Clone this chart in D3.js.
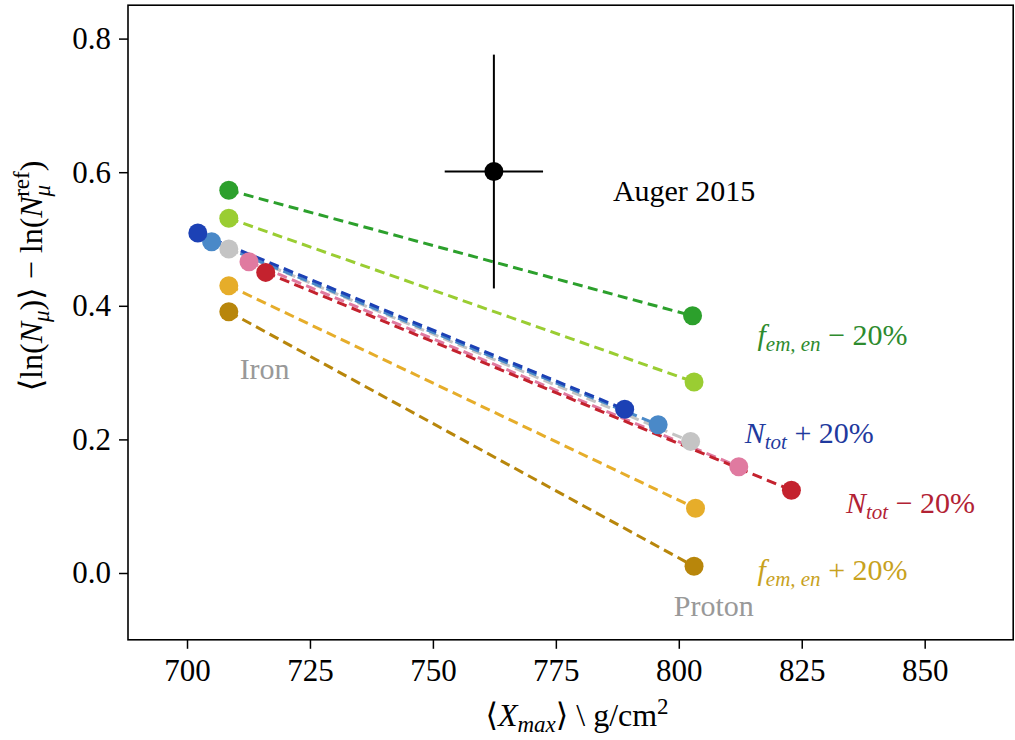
<!DOCTYPE html>
<html>
<head>
<meta charset="utf-8">
<script src="https://cdn.jsdelivr.net/npm/d3@7"></script>
<style>
  html, body { margin: 0; padding: 0; background: #fff; }
  svg { display: block; font-family: "Liberation Serif", "DejaVu Serif", serif; }
</style>
</head>
<body>
<svg id="chart" width="1015" height="740"></svg>
<script>
// ---- data ----
const seriesNames = ["fem-20", "fem-10", "Ntot+20", "Ntot+10", "reference", "Ntot-10", "Ntot-20", "fem+10", "fem+20"];
const seriesColors = ["#2ca02c", "#9acd32", "#1c41b5", "#4a89c8", "#c4c4c4", "#e07aa0", "#c4222e", "#e6ad2a", "#b8860b"];
const ironXmax   = [708.5, 708.5, 702.2, 705.0, 708.5, 712.6, 716.0, 708.5, 708.5];
const ironLnNmu  = [0.573, 0.531, 0.509, 0.496, 0.485, 0.466, 0.450, 0.430, 0.391];
const protonXmax = [802.8, 803.1, 789.0, 795.8, 802.4, 812.2, 822.9, 803.4, 803.1];
const protonLnNmu= [0.385, 0.286, 0.245, 0.222, 0.197, 0.159, 0.124, 0.097, 0.010];
const lineOrder  = [4, 5, 3, 0, 1, 7, 8, 6, 2];

const augerX = 762.4, augerY = 0.601, augerXerr = 10, augerYerr = 0.175;

const xTicks = [700, 725, 750, 775, 800, 825, 850];
const yTicks = [0.0, 0.2, 0.4, 0.6, 0.8];

// ---- scales ----
const svg = d3.select("#chart");
const x = d3.scaleLinear().domain([688, 868]).range([128, 1013.2]);
const y = d3.scaleLinear().domain([-0.1, 0.85]).range([639.8, 5.2]);

// ---- dashed lines ----
const lineGen = d3.line().x(d => x(d[0])).y(d => y(d[1]));
svg.append("g").selectAll("path").data(lineOrder).join("path")
  .attr("d", i => lineGen([[ironXmax[i], ironLnNmu[i]], [protonXmax[i], protonLnNmu[i]]]))
  .attr("fill", "none")
  .attr("stroke", i => seriesColors[i])
  .attr("stroke-width", 3)
  .attr("stroke-dasharray", "10,5.5");

// ---- points ----
const pts = [];
lineOrder.forEach(i => {
  pts.push({x: ironXmax[i], y: ironLnNmu[i], c: seriesColors[i]});
  pts.push({x: protonXmax[i], y: protonLnNmu[i], c: seriesColors[i]});
});
svg.append("g").selectAll("circle").data(pts).join("circle")
  .attr("cx", d => x(d.x)).attr("cy", d => y(d.y)).attr("r", 9.5)
  .attr("fill", d => d.c);

// ---- Auger point with error bars ----
const ag = svg.append("g");
ag.append("line").attr("x1", x(augerX - augerXerr)).attr("x2", x(augerX + augerXerr))
  .attr("y1", y(augerY)).attr("y2", y(augerY)).attr("stroke", "#000").attr("stroke-width", 2);
ag.append("line").attr("x1", x(augerX)).attr("x2", x(augerX))
  .attr("y1", y(augerY - augerYerr)).attr("y2", y(augerY + augerYerr)).attr("stroke", "#000").attr("stroke-width", 2);
ag.append("circle").attr("cx", x(augerX)).attr("cy", y(augerY)).attr("r", 9.5).attr("fill", "#000");

// ---- axes ----
const xAxis = svg.append("g").attr("transform", `translate(0,${y(-0.1)})`)
  .call(d3.axisBottom(x).tickValues(xTicks).tickSize(9).tickPadding(10).tickFormat(d3.format("d")));
const yAxis = svg.append("g").attr("transform", `translate(${x(688)},0)`)
  .call(d3.axisLeft(y).tickValues(yTicks).tickSize(9).tickPadding(8).tickFormat(d3.format(".1f")));
[xAxis, yAxis].forEach(a => {
  a.select(".domain").remove();
  a.selectAll("line").attr("stroke", "#000").attr("stroke-width", 1.5);
  a.selectAll("text").attr("fill", "#000").style("font-size", "31px").style("font-family", "'Liberation Serif', serif");
});
// frame
svg.append("rect").attr("x", x(688)).attr("y", y(0.85))
  .attr("width", x(868) - x(688)).attr("height", y(-0.1) - y(0.85))
  .attr("fill", "none").attr("stroke", "#000").attr("stroke-width", 1.6);

// ---- axis labels ----
const xl = svg.append("text").attr("x", 577).attr("y", 726).attr("text-anchor", "middle").style("font-size", "32px");
xl.append("tspan").text("\u27E8");
xl.append("tspan").style("font-style", "italic").text("X");
xl.append("tspan").style("font-style", "italic").style("font-size", "23px").attr("dy", 6).text("max");
xl.append("tspan").attr("dy", -6).text("\u27E9 \\ g/cm");
xl.append("tspan").style("font-size", "23px").attr("dy", -12).text("2");

const yl = svg.append("text").attr("transform", "translate(42,276) rotate(-90)")
  .attr("text-anchor", "middle").style("font-size", "32px");
yl.append("tspan").text("\u27E8ln(");
yl.append("tspan").style("font-style", "italic").text("N");
yl.append("tspan").style("font-style", "italic").style("font-size", "23px").attr("dy", 7).text("\u03BC");
yl.append("tspan").attr("dy", -7).text(")\u27E9 \u2212 ln(");
yl.append("tspan").style("font-style", "italic").text("N");
yl.append("tspan").style("font-style", "italic").style("font-size", "23px").attr("dy", 8).text("\u03BC");
yl.append("tspan").style("font-size", "23px").attr("dx", -12).attr("dy", -21).text("ref");
yl.append("tspan").attr("dy", 13).text(")");

// ---- annotations ----
const plain = [
  {t: "Auger 2015", x: 786.6, y: 0.557, c: "#000"},
  {t: "Iron", x: 710.7, y: 0.290, c: "#999999"},
  {t: "Proton", x: 799.0, y: -0.064, c: "#999999"}
];
svg.append("g").selectAll("text").data(plain).join("text")
  .attr("x", d => x(d.x)).attr("y", d => y(d.y)).attr("fill", d => d.c)
  .style("font-size", "30px").text(d => d.t);

const mathLabels = [
  {base: "f", sub: "em, en", rest: " \u2212 20%", x: 816.0, y: 0.341, c: "#2e8b2e"},
  {base: "N", sub: "tot", rest: " + 20%", x: 813.4, y: 0.195, c: "#1f3a9e"},
  {base: "N", sub: "tot", rest: " \u2212 20%", x: 834.0, y: 0.090, c: "#b22234"},
  {base: "f", sub: "em, en", rest: " + 20%", x: 816.0, y: -0.010, c: "#c8a21e"}
];
mathLabels.forEach(m => {
  const t = svg.append("text").attr("x", x(m.x)).attr("y", y(m.y)).attr("fill", m.c).style("font-size", "30px");
  t.append("tspan").style("font-style", "italic").text(m.base);
  t.append("tspan").style("font-style", "italic").style("font-size", "21px").attr("dy", 6).text(m.sub);
  t.append("tspan").attr("dy", -6).text(m.rest);
});
</script>
</body>
</html>
